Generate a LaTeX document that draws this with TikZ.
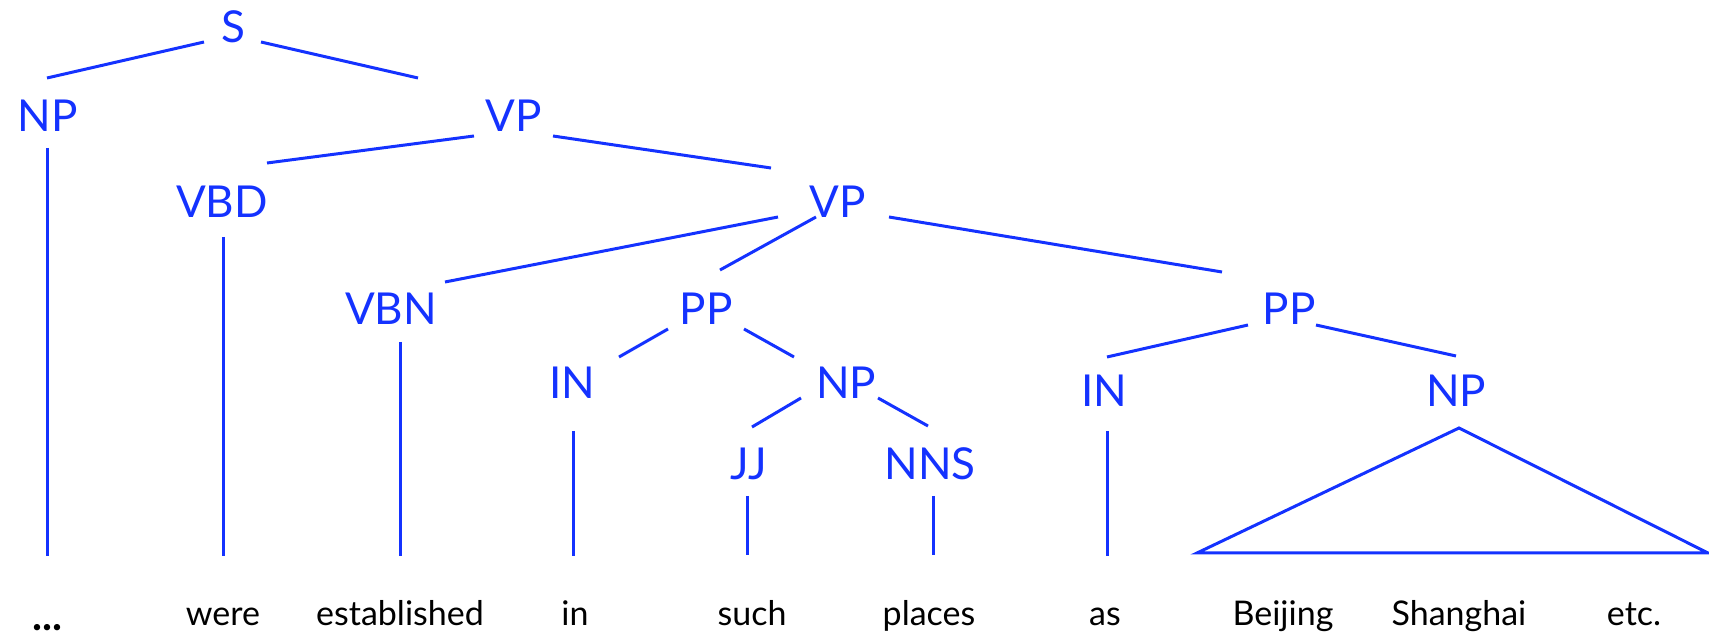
\documentclass[tikz,border=0pt]{standalone}
\usepackage{fontspec}
\setmainfont{Lato}
\usetikzlibrary{calc}
\definecolor{treeblue}{RGB}{20,50,255}
\begin{document}
\begin{tikzpicture}[x=0.5pt,y=-0.5pt,
  cat/.style={anchor=base,inner sep=0pt,text=treeblue,font=\fontsize{22}{26}\selectfont},
  word/.style={anchor=base,inner sep=0pt,text=black,font=\fontsize{17}{20}\selectfont},
  edge/.style={draw=treeblue,line width=1.5pt}]
\useasboundingbox (0,0) rectangle (1709,641);
% categories
\node[cat] (S) at (233,43) {S};
\node[cat] (NP) at (48,132) {NP};
\node[cat] (VPa) at (514,132) {VP};
\node[cat] (VBD) at (222,218) {VBD};
\node[cat] (VPb) at (838,218) {VP};
\node[cat] (VBN) at (391,325) {VBN};
\node[cat] (PPa) at (706,325) {PP};
\node[cat] (PPb) at (1289,325) {PP};
\node[cat] (INa) at (572,399) {IN};
\node[cat] (NPb) at (846,399) {NP};
\node[cat] (INb) at (1104,407) {IN};
\node[cat] (NPc) at (1456,407) {NP};
\node[cat] (JJ) at (749,480) {JJ};
\node[cat] (NNS) at (930,480) {NNS};
% words
\node[word,font=\fontsize{21}{24}\selectfont\bfseries] (w1) at (47,631) {...};
\node[word] (w2) at (223,625) {were};
\node[word] (w3) at (400,625) {established};
\node[word] (w4) at (575,625) {in};
\node[word] (w5) at (752,625) {such};
\node[word] (w6) at (929,625) {places};
\node[word] (w7) at (1105,625) {as};
\node[word] (w8) at (1283,625) {Beijing};
\node[word] (w9) at (1459,625) {Shanghai};
\node[word] (w10) at (1634,625) {etc.};
% branches
\draw[edge] ($(S.base)+(-29,-1)$) -- ($(NP.base)+(-1,-54)$);
\draw[edge] ($(S.base)+(28,-1)$) -- ($(VPa.base)+(-96,-54)$);
\draw[edge] ($(VPa.base)+(-40,4)$) -- ($(VBD.base)+(45,-55)$);
\draw[edge] ($(VPa.base)+(39,4)$) -- ($(VPb.base)+(-67,-50)$);
\draw[edge] ($(VPb.base)+(-60,-1)$) -- ($(VBN.base)+(54,-43)$);
\draw[edge] ($(VPb.base)+(-22,-1)$) -- ($(PPa.base)+(14,-55)$);
\draw[edge] ($(VPb.base)+(51,-1)$) -- ($(PPb.base)+(-67,-53)$);
\draw[edge] ($(PPa.base)+(-38,4)$) -- ($(INa.base)+(47,-42)$);
\draw[edge] ($(PPa.base)+(38,4)$) -- ($(NPb.base)+(-52,-42)$);
\draw[edge] ($(NPb.base)+(-45,-1)$) -- ($(JJ.base)+(3,-53)$);
\draw[edge] ($(NPb.base)+(32,-1)$) -- ($(NNS.base)+(-2,-54)$);
\draw[edge] ($(PPb.base)+(-41,0)$) -- ($(INb.base)+(3,-50)$);
\draw[edge] ($(PPb.base)+(27,0)$) -- ($(NPc.base)+(0,-51)$);
% preterminal to word
\draw[edge] ($(NP.base)+(-1,16)$) -- ($(w1.base)+(0,-75)$);
\draw[edge] ($(VBD.base)+(1,19)$) -- ($(w2.base)+(0,-69)$);
\draw[edge] ($(VBN.base)+(9,17)$) -- ($(w3.base)+(0,-69)$);
\draw[edge] ($(INa.base)+(1,32)$) -- ($(w4.base)+(-2,-69)$);
\draw[edge] ($(JJ.base)+(-2,16)$) -- ($(w5.base)+(-5,-70)$);
\draw[edge] ($(NNS.base)+(3,16)$) -- ($(w6.base)+(4,-70)$);
\draw[edge] ($(INb.base)+(3,24)$) -- ($(w7.base)+(2,-69)$);
% triangle
\draw[edge,line join=miter] ($(NPc.base)+(3,21)$) -- ($(w8.base)+(-86,-72)$) -- ($(w10.base)+(74,-72)$) -- cycle;
\end{tikzpicture}
\end{document}
